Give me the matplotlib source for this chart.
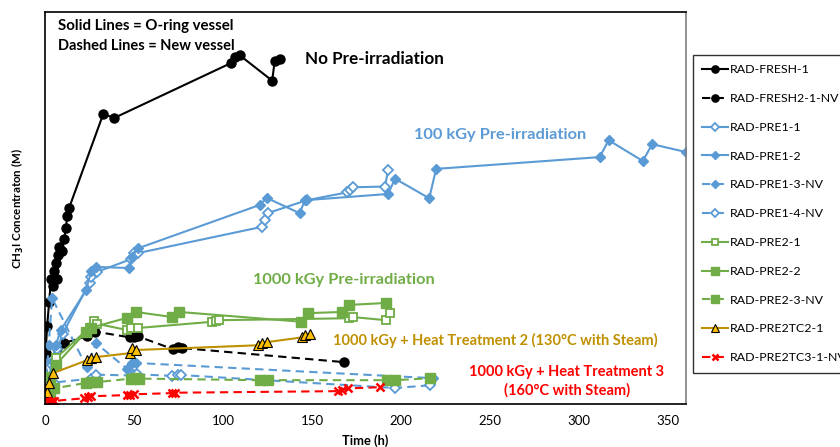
import matplotlib
matplotlib.use("Agg")
import matplotlib.pyplot as plt

plt.rcParams["font.family"] = ["Lato", "DejaVu Sans"]

BLUE = "#5B9BD5"
GREEN = "#70AD47"
GOLD = "#BF9000"
YELLOW = "#FFC000"
RED = "#FF0000"

# time (h) and CH3I concentration for each run
fresh1_t = [0, 0.3, 1.2, 2.3, 3.4, 4.5, 5, 6, 7, 7.5, 8, 9.5, 10.7, 11.8, 12.4, 13.5, 32.7, 38.9, 104.5, 106.5, 109.3, 127.6, 129, 131.8]
fresh1_c = [0, 13, 20, 26, 32, 30, 34, 36, 32, 38, 40, 39, 42, 45, 48, 50, 74, 73, 87, 88.5, 89, 82.5, 87.5, 88]

fresh2_t = [0, 1, 3, 10.7, 23.8, 28, 48, 50, 52, 72, 74.5, 77, 168]
fresh2_c = [0, 3, 7, 15.6, 17.3, 18.5, 17, 17.2, 17.3, 14, 14.5, 14.3, 10.7]

pre1_1_t = [0, 2, 4, 7, 10, 25, 26, 29, 48.5, 50, 52, 121.7, 123.5, 125, 147, 169.6, 171.3, 172.9, 191, 192.7]
pre1_1_c = [0, 5, 10, 14, 18, 31, 32.4, 33.7, 37, 38.5, 38.5, 45.2, 47, 48.7, 52, 54, 54.6, 55.3, 55.5, 59.7]

pre1_2_t = [0, 2, 4, 6, 9, 23, 26, 28.7, 47.3, 49, 52, 120.6, 124.5, 143, 146, 192.7, 196.6, 215.8, 219.7, 311.5, 316.6, 335.8, 341, 360]
pre1_2_c = [0, 6, 11, 15, 19, 29, 34, 35, 34.7, 37.5, 39.7, 50.8, 52.6, 48.7, 52, 53.6, 57.5, 52.5, 60, 63, 67.3, 62, 66.3, 64.3]

pre1_3_t = [0, 2, 4, 23.3, 28.7, 46, 49, 51, 218]
pre1_3_c = [0, 15, 27, 9.5, 15.5, 9, 10.5, 10.5, 6.6]

pre1_4_t = [0, 2, 5, 26, 28.7, 50, 51.5, 71.5, 74.5, 76.6, 196.6, 216.3]
pre1_4_c = [0, 3, 5.5, 6.5, 7.5, 7.3, 7.6, 7.2, 7.4, 7.4, 4.1, 4.8]

pre2_1_t = [0, 2, 6, 25, 27.6, 29, 46, 48.5, 52, 94, 96, 98, 171, 173, 191.5, 193.8]
pre2_1_c = [0, 5, 11.7, 19.5, 21.2, 20.5, 18.9, 19.4, 19.4, 21, 21.2, 21.4, 21.9, 22.2, 21.4, 23.2]

pre2_2_t = [0, 1, 3, 6, 23, 26, 46, 51, 71.5, 75.5, 144, 147.6, 167, 171, 191.5]
pre2_2_c = [0, 3, 7, 10, 18.4, 19.5, 22, 23.5, 22.2, 23.5, 21, 23.2, 23.5, 25.3, 25.8]

pre2_3_t = [0, 1, 3, 5, 23, 26, 29, 48.5, 51, 53, 120.5, 125, 192, 196.6, 216.3]
pre2_3_c = [0, 1.5, 3, 4, 5.4, 5.6, 5.6, 6.5, 6.6, 6.5, 6.1, 6.1, 6.1, 6.1, 6.6]

tc2_t = [0, 0.5, 1, 2.3, 4.5, 23.7, 25.9, 28.7, 47.9, 49, 51.3, 119.4, 121.7, 124.5, 144.2, 146, 148.7]
tc2_c = [0, 1.8, 3, 5.4, 7.9, 11.2, 11.7, 12, 13, 14.3, 13.8, 15, 15.6, 15.8, 17, 17.6, 17.9]

tc3_t = [0, 1, 2, 3, 4, 5, 22, 24, 26, 46, 48, 50, 71.5, 73, 164.5, 167, 170, 188]
tc3_c = [0, 0.3, 0.5, 0.6, 0.7, 0.8, 1.5, 1.8, 2, 2.3, 2.4, 2.5, 2.8, 2.9, 3.3, 3.6, 4, 4.3]

fig = plt.figure(figsize=(8.4, 4.47), dpi=100)
ax = fig.add_axes([0.0536, 0.096, 0.763, 0.877])

dash = (0, (4, 2.5))
ax.plot(fresh1_t, fresh1_c, "-", color="black", lw=1.5, marker="o", ms=6.5, label="RAD-FRESH-1")
ax.plot(fresh2_t, fresh2_c, ls=dash, color="black", lw=1.5, marker="o", ms=6.5, label="RAD-FRESH2-1-NV")
ax.plot(pre1_1_t, pre1_1_c, "-", color=BLUE, lw=1.5, marker="D", ms=5, mfc="white", mew=1.3, label="RAD-PRE1-1")
ax.plot(pre1_2_t, pre1_2_c, "-", color=BLUE, lw=1.5, marker="D", ms=5, label="RAD-PRE1-2")
ax.plot(pre1_3_t, pre1_3_c, ls=dash, color=BLUE, lw=1.5, marker="D", ms=5, label="RAD-PRE1-3-NV")
ax.plot(pre1_4_t, pre1_4_c, ls=dash, color=BLUE, lw=1.5, marker="D", ms=5, mfc="white", mew=1.3, label="RAD-PRE1-4-NV")
ax.plot(pre2_1_t, pre2_1_c, "-", color=GREEN, lw=1.5, marker="s", ms=6, mfc="white", mew=1.3, label="RAD-PRE2-1")
ax.plot(pre2_2_t, pre2_2_c, "-", color=GREEN, lw=1.5, marker="s", ms=7, label="RAD-PRE2-2")
ax.plot(pre2_3_t, pre2_3_c, ls=dash, color=GREEN, lw=1.5, marker="s", ms=7, label="RAD-PRE2-3-NV")
ax.plot(tc2_t, tc2_c, "-", color=GOLD, lw=1.5, marker="^", ms=7.5, mfc=YELLOW, mec="black", mew=0.8, label="RAD-PRE2TC2-1")
ax.plot(tc3_t, tc3_c, ls=dash, color=RED, lw=1.5, marker="x", ms=6, mew=1.8, label="RAD-PRE2TC3-1-NV")

ax.set_xlim(0, 360)
ax.set_ylim(0, 100)
ax.set_xticks(range(0, 351, 50))
ax.set_yticks([])
ax.tick_params(axis="x", length=0, labelsize=9.5, pad=8)
for s in ax.spines.values():
    s.set_color("black")
    s.set_linewidth(1.2)
ax.spines["right"].set_color("#7f7f7f")

ax.set_xlabel("Time (h)", fontsize=9.3, fontweight="bold", labelpad=5)
ax.set_ylabel("CH$_\\mathbf{3}$I Concentraton (M)", fontsize=8.3, fontweight="bold", labelpad=14)

fig.text(58 / 840, 1 - 26 / 447, "Solid Lines = O-ring vessel", fontsize=10.8, fontweight="bold", va="center")
fig.text(58 / 840, 1 - 46 / 447, "Dashed Lines = New vessel", fontsize=10.5, fontweight="bold", va="center")
ax.text(146, 88, "No Pre-irradiation", fontsize=12.3, fontweight="bold", ha="left", va="center")
ax.text(207, 68.6, "100 kGy Pre-irradiation", fontsize=11.8, fontweight="bold", color=BLUE, ha="left", va="center")
ax.text(117, 31.6, "1000 kGy Pre-irradiation", fontsize=11.8, fontweight="bold", color=GREEN, ha="left", va="center")
ax.text(162, 16.3, "1000 kGy + Heat Treatment 2 (130°C with Steam)", fontsize=10.5, fontweight="bold", color=GOLD, ha="left", va="center")
ax.text(293, 5.9, "1000 kGy + Heat Treatment 3\n(160°C with Steam)", fontsize=10.5, fontweight="bold", color=RED, ha="center", va="center", linespacing=1.35)

leg = fig.legend(loc="upper left", bbox_to_anchor=(693 / 840, 1 - 55 / 447), fontsize=8.9, frameon=True,
                 fancybox=False, edgecolor="black", handlelength=2.1, labelspacing=1.44, borderpad=0.75,
                 borderaxespad=0, handletextpad=0.12, markerscale=0.8)
leg.get_frame().set_linewidth(1.0)

fig.savefig("out.png", dpi=100)
